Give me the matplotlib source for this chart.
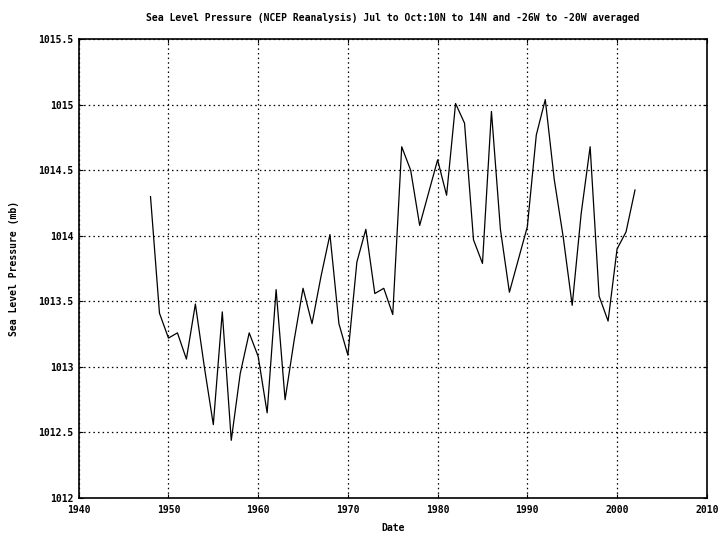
import numpy as np
import matplotlib
matplotlib.use("Agg")
import matplotlib.pyplot as plt
from matplotlib.ticker import FuncFormatter

years = np.arange(1948, 2003)
slp = [1014.30, 1013.41, 1013.22, 1013.26, 1013.06, 1013.48, 1013.00, 1012.56,
       1013.42, 1012.44, 1012.95, 1013.26, 1013.08, 1012.65, 1013.59, 1012.75,
       1013.20, 1013.60, 1013.33, 1013.69, 1014.01, 1013.33, 1013.09, 1013.80,
       1014.05, 1013.56, 1013.60, 1013.40, 1014.68, 1014.50, 1014.08, 1014.33,
       1014.58, 1014.31, 1015.01, 1014.86, 1013.97, 1013.79, 1014.95, 1014.05,
       1013.57, 1013.82, 1014.07, 1014.77, 1015.04, 1014.43, 1013.99, 1013.47,
       1014.17, 1014.68, 1013.54, 1013.35, 1013.90, 1014.03, 1014.35]

title = "Sea Level Pressure (NCEP Reanalysis) Jul to Oct:10N to 14N and -26W to -20W averaged"

font = dict(family="DejaVu Sans Mono", fontweight="bold", fontsize=7)

fig = plt.figure(figsize=(7.19, 5.36), dpi=100)
ax = fig.add_axes([0.1095, 0.0709, 0.8735, 0.8558])

ax.plot(years, slp, color="black", linewidth=0.9)

ax.set_xlim(1940, 2010)
ax.set_ylim(1012, 1015.5)
ax.set_xticks(np.arange(1940, 2011, 10))
ax.set_yticks(np.arange(1012, 1015.51, 0.5))
ax.yaxis.set_major_formatter(FuncFormatter(lambda v, p: f"{v:g}"))
ax.grid(True, color="black", linestyle=(0, (1.2, 2.5)), linewidth=0.9)
ax.tick_params(direction="in", length=3, width=0.8, top=True, right=True,
               labelsize=7)
ax.tick_params(axis="x", pad=5)
for lab in ax.get_xticklabels() + ax.get_yticklabels():
    lab.set_family("DejaVu Sans Mono")
    lab.set_fontweight("bold")
for s in ax.spines.values():
    s.set_linewidth(1.2)

ax.set_title(title, pad=13, **font)
ax.set_xlabel("Date", labelpad=6, **font)
ax.set_ylabel("Sea Level Pressure (mb)", labelpad=14, **font)

fig.savefig("out.png", dpi=100)
